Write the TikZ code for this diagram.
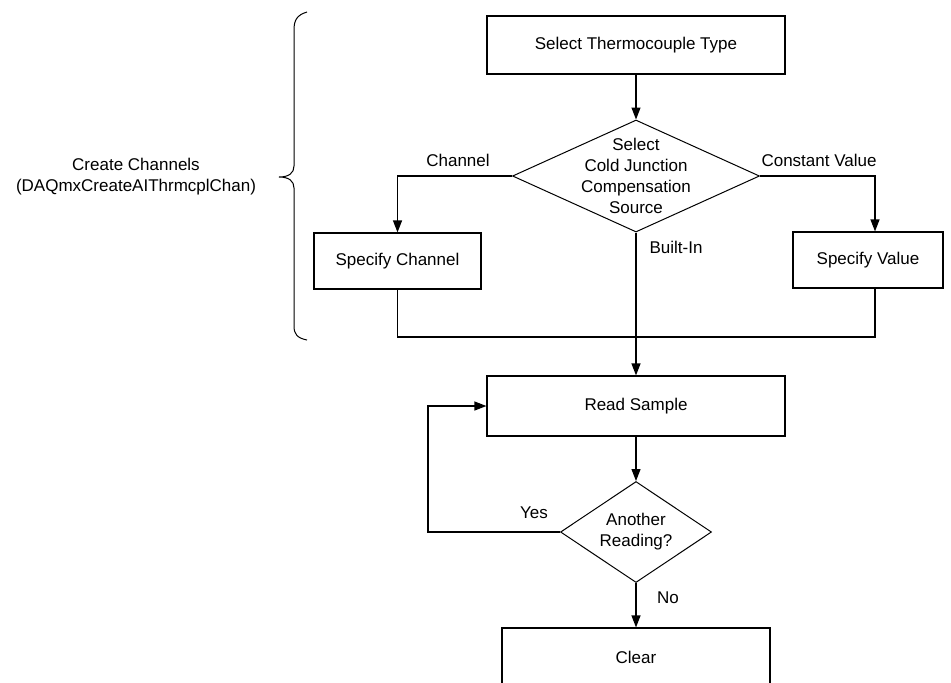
\documentclass[tikz,border=0pt]{standalone}
\usepackage{fontspec}
\setmainfont{Liberation Sans}
\usetikzlibrary{arrows.meta,positioning,shapes.geometric}

\begin{document}
\begin{tikzpicture}[x=0.5pt, y=-0.5pt,
  every node/.style={font=\fontsize{8.5}{10.5}\selectfont},
  stepbox/.style={draw, line width=0.6pt, inner sep=0pt},
  choice/.style={diamond, draw, line width=0.5pt, inner sep=0pt},
  flow/.style={line width=0.6pt},
  arr/.style={flow, -{Triangle[length=6pt, width=4.5pt]}}
]
  \clip (0,0) rectangle (951,682);

  % boxes of the flow
  \node[stepbox, minimum width=149pt, minimum height=29pt] (seltype) at (636,45) {Select Thermocouple Type};
  \node[choice, minimum width=123.5pt, minimum height=56pt,
        label={[align=center]center:Select\\Cold Junction\\Compensation\\Source}] (cjc) at (636,176) {};
  \node[stepbox, minimum width=83.5pt, minimum height=28pt] (chan) at (397.5,261) {Specify Channel};
  \node[stepbox, minimum width=75pt, minimum height=28pt] (val) at (868,260) {Specify Value};
  \node[stepbox, minimum width=149pt, minimum height=30pt] (read) at (636,406) {Read Sample};
  \node[choice, minimum width=75.5pt, minimum height=50.5pt,
        label={[align=center]center:Another\\Reading?}] (more) at (636,532) {};
  \node[stepbox, minimum width=134pt, minimum height=29pt] (clear) at (636,657) {Clear};

  % labels
  \node (lchan) at (458,160) {Channel};
  \node (lconst) at (819,160) {Constant Value};
  \node (lbuilt) at (676,247) {Built-In};
  \node (lyes) at (534,513) {Yes};
  \node (lno) at (668,598) {No};
  \node[align=center] (create) at (136,177) {Create Channels\\(DAQmxCreateAIThrmcplChan)};

  \coordinate (join) at (636,337);
  \coordinate (loop) at (428,532);

  % connectors
  \draw[arr] (seltype) -- (cjc);
  \draw[arr] (cjc.west) -| (chan.north);
  \draw[arr] (cjc.east) -| ([xshift=3.5pt]val.north);
  \draw[arr] (cjc.south) -- (read.north);
  \draw[flow] (chan.south) |- (join);
  \draw[flow] ([xshift=3.5pt]val.south) |- (join);
  \draw[arr] (read) -- (more);
  \draw[arr] (more.west) -- (loop) |- (read.west);
  \draw[arr] (more) -- (clear);

  % brace
  \draw[line width=0.5pt] (307,12) .. controls (297,15) and (294,20) .. (294,30) -- (294,166)
    .. controls (294,173) and (289,177) .. (279,177)
    .. controls (289,177) and (294,181) .. (294,188) -- (294,326)
    .. controls (294,334) and (297,338) .. (307,340);
\end{tikzpicture}
\end{document}
